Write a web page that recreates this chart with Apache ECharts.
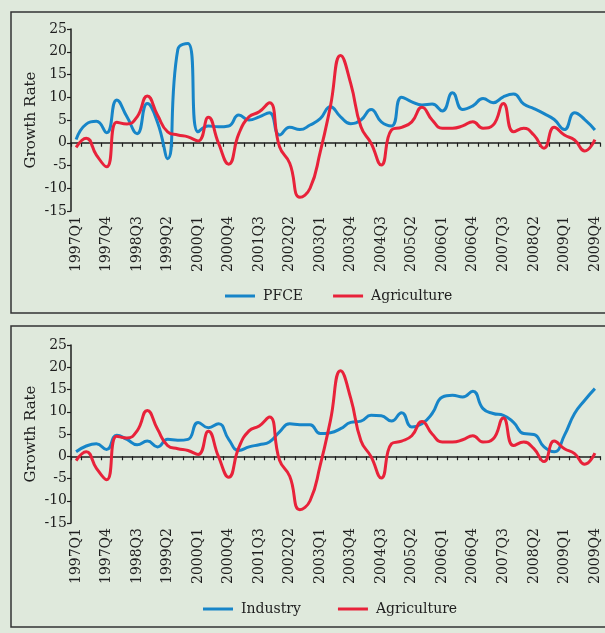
<!DOCTYPE html>
<html>
<head>
<meta charset="utf-8">
<script src="https://cdn.jsdelivr.net/npm/echarts@6/dist/echarts.min.js"></script>
<style>
  html, body { margin: 0; padding: 0; background: #dfe9dc; }
  #chart { width: 605px; height: 633px; }
</style>
</head>
<body>
<div id="chart"></div>
<script>
// quarters 1997Q1 .. 2009Q4
const years = [1997, 1998, 1999, 2000, 2001, 2002, 2003, 2004, 2005, 2006, 2007, 2008, 2009]
const quarters = []
years.forEach(y => {
  for (let q = 1; q <= 4; q++) quarters.push(y + 'Q' + q)
})

// growth rates
const pfce = [0.7, 4.1, 4.7, 2.2, 9.4, 5.7, 2.0, 8.6, 4.5, -3.5, 20.5, 21.8, 2.4, 3.7, 3.5, 3.7,
  6.1, 5.0, 5.7, 6.6, 1.7, 3.4, 2.9, 3.9, 5.3, 7.9, 5.7, 4.2, 5.0, 7.3, 4.6, 3.7, 10.0, 9.0,
  8.3, 8.5, 7.0, 11.0, 7.3, 8.1, 9.7, 8.8, 10.1, 10.7, 8.5, 7.5, 6.4, 5.1, 2.9, 6.6, 5.1, 2.8]
const agriculture = [-1.0, 1.0, -2.7, -5.3, 4.5, 4.1, 5.7, 10.3, 6.1, 2.4, 1.7, 1.3, 0.4, 5.6, -0.1, -4.7,
  2.0, 5.7, 6.8, 8.8, -0.9, -4.5, -12.0, -10.0, -2.0, 8.0, 19.2, 13.0, 3.5, -0.1, -4.9, 2.8, 3.4, 4.6,
  7.8, 5.0, 3.2, 3.2, 3.7, 4.6, 3.2, 3.9, 8.6, 2.4, 3.2, 1.7, -1.2, 3.4, 1.7, 0.6, -1.8, 0.7]
const industry = [1.0, 2.3, 2.8, 1.5, 4.7, 3.8, 2.6, 3.4, 2.1, 3.8, 3.6, 3.8, 7.6, 6.4, 7.3, 3.8, 1.3,
  2.1, 2.6, 3.2, 5.5, 7.3, 7.1, 7.1, 5.1, 5.3, 6.2, 7.6, 7.9, 9.2, 9.1, 7.9, 9.8, 6.6,
  7.3, 9.6, 13.3, 13.7, 13.3, 14.6, 10.7, 9.6, 9.2, 7.6, 5.1, 4.9, 2.1, 1.0, 4.7, 9.6, 12.6, 15.2]

const BLUE = '#1785c8'
const RED = '#e8223a'
const INK = '#1e1e1e'
const FONT = 'DejaVu Serif'

const chart = echarts.init(document.getElementById('chart'))

// axis that sits on zero: line + ticks only
function zeroAxis (g) {
  return {
    type: 'category',
    gridIndex: g,
    data: quarters,
    position: 'bottom',
    boundaryGap: true,
    axisLine: { onZero: true, lineStyle: { color: INK, width: 1.5 } },
    axisTick: { show: true, interval: 0, length: 4, lineStyle: { color: INK, width: 1.2 } },
    axisLabel: { show: false }
  }
}
// axis at the bottom: labels only
function labelAxis (g) {
  return {
    type: 'category',
    gridIndex: g,
    data: quarters,
    position: 'bottom',
    boundaryGap: true,
    axisLine: { show: false, onZero: false },
    axisTick: { show: false },
    axisLabel: {
      interval: 2,
      rotate: 90,
      margin: 5,
      color: INK,
      fontFamily: FONT,
      fontSize: 14
    }
  }
}
function yAxis (g) {
  return {
    type: 'value',
    gridIndex: g,
    min: -15,
    max: 25,
    interval: 5,
    name: 'Growth Rate',
    nameLocation: 'middle',
    nameGap: 32,
    nameMoveOverlap: false,
    nameTextStyle: { color: INK, fontFamily: FONT, fontSize: 15 },
    axisLine: { show: true, lineStyle: { color: INK, width: 1.5 } },
    axisTick: { show: true, length: 4, lineStyle: { color: INK, width: 1.2 } },
    axisLabel: { margin: 4, color: INK, fontFamily: FONT, fontSize: 14 },
    splitLine: { show: false }
  }
}
function line (name, data, color, xi, yi) {
  return {
    name: name,
    type: 'line',
    xAxisIndex: xi,
    yAxisIndex: yi,
    data: data,
    smooth: 0.5,
    symbol: 'none',
    lineStyle: { color: color, width: 3 },
    itemStyle: { color: color },
    z: name === 'Agriculture' ? 3 : 2
  }
}

const legendBase = {
  icon: 'path://M0,0 L30,0 L30,3 L0,3 Z',
  itemWidth: 30,
  itemHeight: 3,
  textStyle: { color: INK, fontFamily: FONT, fontSize: 14, padding: [0, 0, 0, 3] }
}

const option = {
  backgroundColor: '#dfe9dc',
  animation: false,
  graphic: [
    { type: 'rect', shape: { x: 11, y: 12, width: 640, height: 301 }, style: { fill: 'none', stroke: '#333', lineWidth: 1.5 } },
    { type: 'rect', shape: { x: 11, y: 326, width: 640, height: 301 }, style: { fill: 'none', stroke: '#333', lineWidth: 1.5 } }
  ],
  grid: [
    { left: 71, right: 5, top: 29, height: 182 },
    { left: 71, right: 5, top: 345, height: 178 }
  ],
  legend: [
    Object.assign({}, legendBase, {
      data: ['PFCE', 'Agriculture'],
      left: 220,
      top: 284,
      itemGap: 30
    }),
    Object.assign({}, legendBase, {
      data: ['Industry', 'Agriculture'],
      left: 198,
      top: 597,
      itemGap: 37
    })
  ],
  xAxis: [zeroAxis(0), labelAxis(0), zeroAxis(1), labelAxis(1)],
  yAxis: [yAxis(0), yAxis(1)],
  series: [
    line('PFCE', pfce, BLUE, 1, 0),
    line('Agriculture', agriculture, RED, 1, 0),
    line('Industry', industry, BLUE, 3, 1),
    line('Agriculture', agriculture, RED, 3, 1)
  ]
}
chart.setOption(option)
</script>
</body>
</html>
